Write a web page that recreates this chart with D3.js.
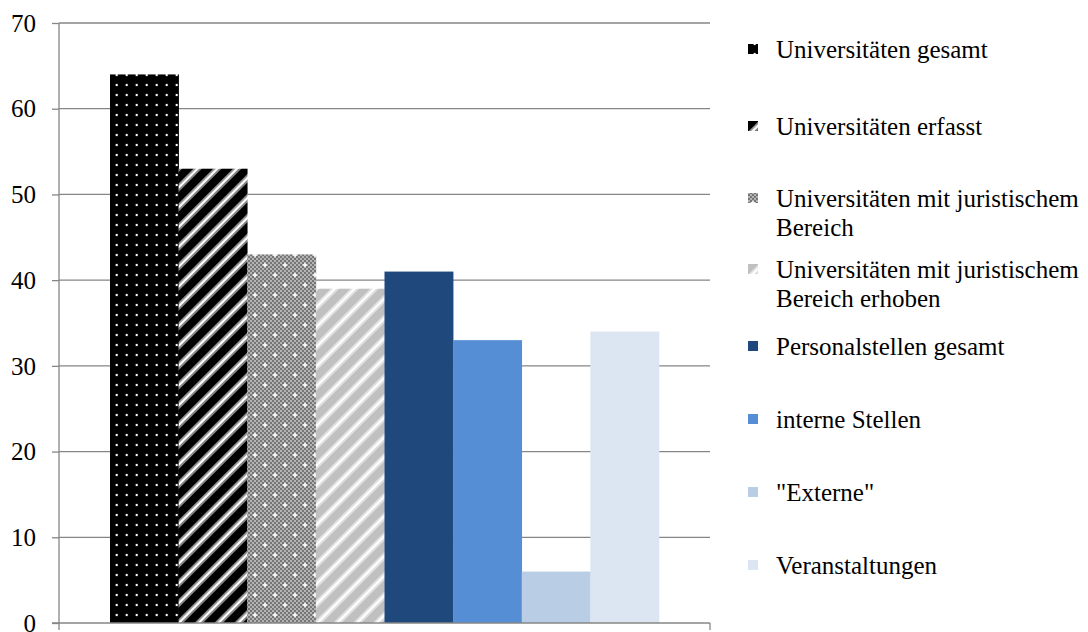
<!DOCTYPE html>
<html><head><meta charset="utf-8">
<script src="https://cdn.jsdelivr.net/npm/d3@7"></script>
<style>body{margin:0;background:#fff}</style>
</head><body><svg id="c" width="1088" height="632"></svg>
<script>
const categories = ["Universitäten gesamt","Universitäten erfasst","Universitäten mit juristischem Bereich","Universitäten mit juristischem Bereich erhoben","Personalstellen gesamt","interne Stellen","\"Externe\"","Veranstaltungen"];
const legendLines = [["Universitäten gesamt"],["Universitäten erfasst"],["Universitäten mit juristischem","Bereich"],["Universitäten mit juristischem","Bereich erhoben"],["Personalstellen gesamt"],["interne Stellen"],["\"Externe\""],["Veranstaltungen"]];
const values = [64,53,43,39,41,33,6,34];
const yTicks = [0,10,20,30,40,50,60,70];
const fills = ["url(#pDots)","url(#pStripeBlk)","url(#pCheck)","url(#pStripeGry)","#1f497d","#558ed5","#b9cde5","#dce6f2"];
const FONT = "Liberation Serif";

const svg = d3.select("#c");
const defs = svg.append("defs");
let p = defs.append("pattern").attr("id","pDots").attr("patternUnits","userSpaceOnUse").attr("x",1.7).attr("y",0).attr("width",10).attr("height",10);
p.append("rect").attr("width",10).attr("height",10).attr("fill","#000");
p.append("circle").attr("cx",5).attr("cy",5).attr("r",1.2).attr("fill","#fff");
p = defs.append("pattern").attr("id","pStripeBlk").attr("patternUnits","userSpaceOnUse").attr("width",14).attr("height",14).attr("patternTransform","rotate(45)");
p.append("rect").attr("width",14).attr("height",14).attr("fill","#000");
p.append("rect").attr("x",4).attr("width",1.5).attr("height",14).attr("fill","#888");
p.append("rect").attr("x",5.5).attr("width",3).attr("height",14).attr("fill","#fff");
p.append("rect").attr("x",8.5).attr("width",1.5).attr("height",14).attr("fill","#888");
p = defs.append("pattern").attr("id","pCheck").attr("patternUnits","userSpaceOnUse").attr("width",20).attr("height",20);
p.append("rect").attr("width",20).attr("height",20).attr("fill","#b4b4b4");
for(let i=0;i<10;i++)for(let j=0;j<10;j++) if((i+j)%2===0) p.append("rect").attr("x",i*2).attr("y",j*2).attr("width",2).attr("height",2).attr("fill","#767676");
[[5,5],[15,15]].forEach(([cx,cy])=>{
  p.append("rect").attr("x",cx-2).attr("y",cy-0.75).attr("width",4).attr("height",1.5).attr("fill","#fff");
  p.append("rect").attr("x",cx-0.75).attr("y",cy-2).attr("width",1.5).attr("height",4).attr("fill","#fff");
});
p = defs.append("pattern").attr("id","pStripeGry").attr("patternUnits","userSpaceOnUse").attr("width",14).attr("height",14).attr("patternTransform","rotate(45)");
p.append("rect").attr("width",14).attr("height",14).attr("fill","#c0c0c0");
p.append("rect").attr("x",4).attr("width",1.5).attr("height",14).attr("fill","#e0e0e0");
p.append("rect").attr("x",5.5).attr("width",3).attr("height",14).attr("fill","#fff");
p.append("rect").attr("x",8.5).attr("width",1.5).attr("height",14).attr("fill","#e0e0e0");

const pL=59,pR=710,pT=23,pB=623;
const y = d3.scaleLinear().domain([0,70]).range([pB,pT]);
const x = d3.scaleBand().domain(categories).range([pL+51,pR-51]).padding(0);
const grey="#868686";

svg.append("g").selectAll("line").data(yTicks.filter(d=>d>0)).join("line")
  .attr("x1",pL).attr("x2",pR).attr("y1",d=>y(d)).attr("y2",d=>y(d))
  .attr("stroke",grey).attr("stroke-width",1.3);

svg.append("g").selectAll("rect").data(values).join("rect")
  .attr("x",(d,i)=>x(categories[i])).attr("width",x.bandwidth()+0.3)
  .attr("y",d=>y(d)).attr("height",d=>y(0)-y(d))
  .attr("fill",(d,i)=>fills[i]);

const ya = svg.append("g").attr("transform",`translate(${pL},0)`)
  .call(d3.axisLeft(y).tickValues(yTicks).tickSize(7).tickPadding(16).tickFormat(d3.format("d")));
ya.select(".domain").attr("stroke",grey).attr("stroke-width",1.3).attr("d",`M0,${pT}V${pB}`);
ya.selectAll(".tick line").attr("stroke",grey).attr("stroke-width",1.3);
ya.selectAll(".tick text").attr("fill","#000").attr("dy","0.33em")
  .attr("font-family",FONT).attr("font-size",25);

const xa = svg.append("g").attr("transform",`translate(0,${pB})`);
xa.append("line").attr("x1",pL-7).attr("x2",pR).attr("stroke",grey).attr("stroke-width",1.3);
xa.selectAll("line.t").data([pL,pR]).join("line").attr("class","t")
  .attr("x1",d=>d).attr("x2",d=>d).attr("y1",0).attr("y2",7).attr("stroke",grey).attr("stroke-width",1.3);

const rowY=[49,126,198,269,346,419,492,565];
const lg = svg.append("g");
legendLines.forEach((lines,i)=>{
  const g = lg.append("g").attr("transform",`translate(748,${rowY[i]})`);
  g.append("rect").attr("x",0).attr("y",-5).attr("width",10).attr("height",10).attr("fill",fills[i]);
  const t = g.append("text").attr("x",28).attr("y",0).attr("fill","#000")
    .attr("font-family",FONT).attr("font-size",25);
  lines.forEach((l,k)=>t.append("tspan").attr("x",28).attr("dy",k===0?"0.36em":"29").text(l));
});
</script></body></html>
